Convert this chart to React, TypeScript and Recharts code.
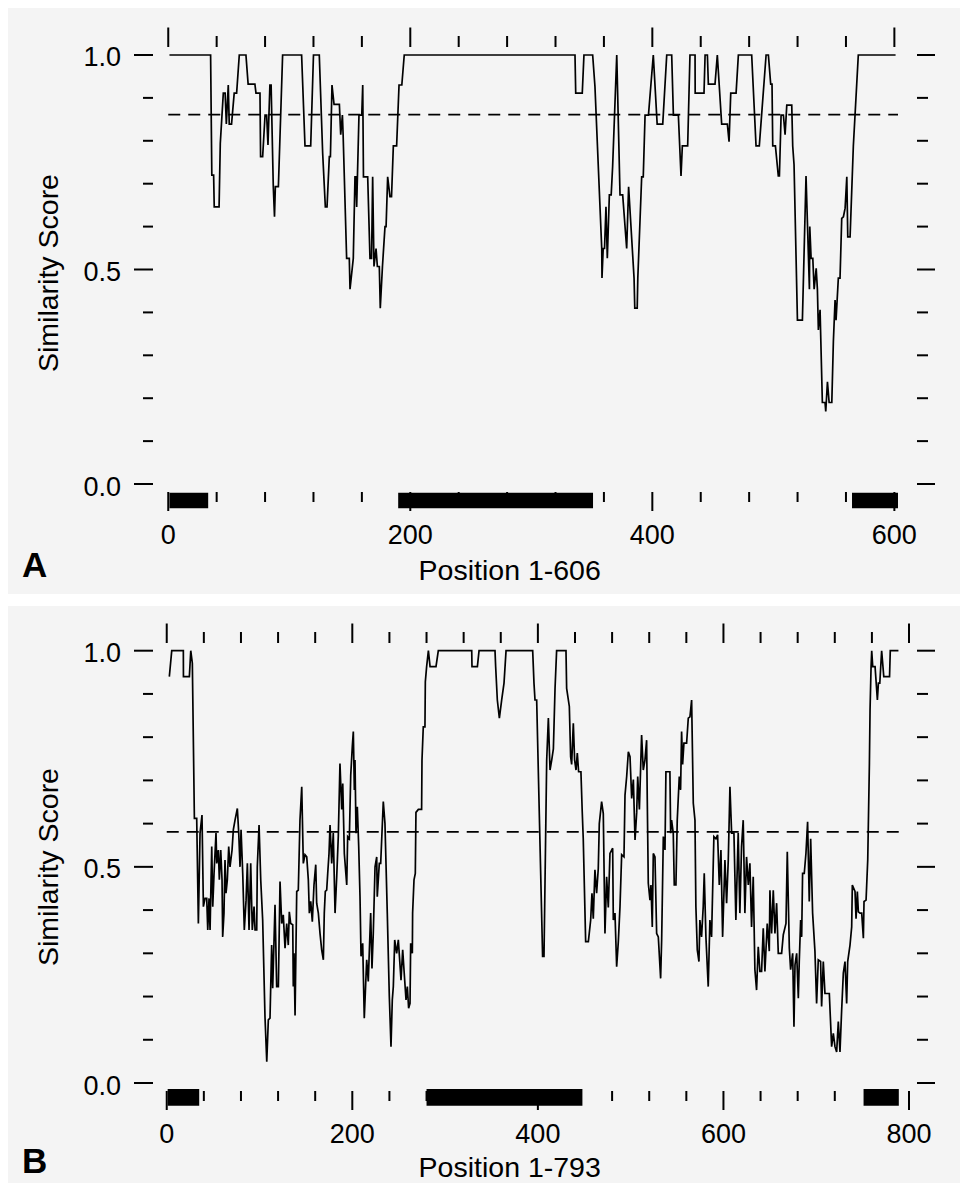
import React from "react"
import { ComposedChart, Line, XAxis, YAxis, ReferenceLine, ReferenceArea } from "recharts"

const FONT = '"Liberation Sans", Arial, Helvetica, sans-serif'

// panel A: protein 1-606
const posA = [1, 35, 36, 37.5, 38, 42, 43, 45.5, 47, 48, 49.6, 50.4, 52.3, 54.5, 56.5, 58.7, 64.2, 66, 71.6, 72.5, 75.8, 76.3, 78, 80, 81.3, 82.4, 84, 85, 86.8, 87.8, 88.5, 91, 94.5, 110.2, 113, 117.7, 120, 124.8, 127.6, 129.8, 131.2, 133.1, 134, 135.3, 137, 141.4, 142.5, 143.9, 144.5, 147.4, 149.6, 150.2, 152.9, 154.3, 155, 155.7, 157.6, 159.9, 160.7, 161.3, 164.8, 166.7, 168, 168.9, 170, 171.7, 172.8, 174.4, 175.2, 177, 179.1, 180, 181.3, 183.2, 184.5, 186, 188.7, 190.7, 193, 195, 336.1, 336.7, 342.1, 343.5, 350.7, 352.6, 358.2, 358.4, 359.4, 360.5, 361.7, 362.8, 364.5, 366, 367.2, 370.6, 373.3, 375.5, 378.8, 380.4, 384.9, 385.5, 387.5, 388, 391.2, 392.5, 394, 396.8, 400.8, 404, 408.6, 411.9, 416, 417.4, 421.5, 423.7, 424.8, 429.2, 431.1, 435.3, 435.4, 442.7, 443.6, 445.5, 446.3, 451.8, 453.7, 457.3, 462, 463.4, 464.8, 469.2, 471.1, 482.1, 485.7, 488.4, 494, 495.9, 497.8, 498.9, 499.5, 501.7, 504.1, 505, 506.4, 508.3, 509.7, 511.1, 515.2, 516, 517.1, 519.9, 524, 527, 529.8, 530.1, 531.2, 532.6, 533.7, 535.4, 536.4, 537.2, 538.6, 540.5, 542.7, 543.3, 544.7, 546.1, 548.3, 549.6, 551, 551.8, 553.7, 555.1, 556.5, 557.9, 559.3, 560.7, 561.5, 563.4, 566.1, 567.5, 570.2, 601]
const scoreA = [1, 1, 0.72, 0.72, 0.646, 0.646, 0.794, 0.911, 0.911, 0.839, 0.93, 0.839, 0.839, 0.911, 0.911, 1, 1, 0.932, 0.932, 0.911, 0.911, 0.763, 0.763, 0.86, 0.86, 0.79, 0.93, 0.93, 0.693, 0.623, 0.693, 0.693, 1, 1, 0.788, 0.788, 1, 1, 0.771, 0.646, 0.646, 0.763, 0.763, 0.93, 0.885, 0.885, 0.814, 0.86, 0.814, 0.526, 0.526, 0.454, 0.526, 0.716, 0.716, 0.646, 0.86, 0.86, 0.93, 0.716, 0.716, 0.526, 0.526, 0.716, 0.507, 0.549, 0.507, 0.507, 0.41, 0.507, 0.6, 0.6, 0.716, 0.67, 0.67, 0.788, 0.788, 0.93, 0.93, 1, 1, 0.911, 0.911, 1, 1, 0.926, 0.549, 0.48, 0.549, 0.549, 0.646, 0.526, 0.674, 0.674, 0.74, 1, 0.674, 0.674, 0.549, 0.693, 0.48, 0.41, 0.41, 0.48, 0.716, 0.716, 0.86, 0.86, 1, 0.839, 0.839, 1, 1, 0.86, 0.86, 0.718, 0.788, 0.788, 1, 1, 0.911, 0.911, 1, 1, 0.932, 0.932, 1, 0.839, 0.839, 0.798, 0.911, 0.911, 1, 1, 0.788, 0.788, 1, 1, 0.932, 0.932, 0.788, 0.788, 0.718, 0.718, 0.86, 0.86, 0.814, 0.883, 0.883, 0.788, 0.744, 0.382, 0.382, 0.718, 0.454, 0.6, 0.526, 0.526, 0.454, 0.503, 0.454, 0.359, 0.406, 0.19, 0.19, 0.169, 0.238, 0.19, 0.19, 0.332, 0.429, 0.382, 0.48, 0.48, 0.619, 0.623, 0.643, 0.716, 0.576, 0.576, 0.788, 0.86, 1, 1]
const domStartA = [1, 190, 565]
const domEndA = [33, 351, 603]
const cutA = 0.861
const xTicksA = [0, 40, 80, 120, 160, 200, 240, 280, 320, 360, 400, 440, 480, 520, 560, 600]

// panel B: protein 1-793
const posB = [2.8, 5.4, 17.9, 18, 24.4, 25.9, 27.6, 29.8, 32.3, 34.1, 35.9, 38, 39.5, 41.3, 43.1, 44.2, 45.6, 46.7, 48.5, 49.6, 51, 53.1, 53.9, 55.6, 56.7, 58.2, 59.6, 60.3, 61.7, 62.8, 63.9, 65.3, 66.8, 68.2, 70.4, 71.8, 73.6, 76.1, 77.6, 79, 80.1, 81.9, 83.6, 85.5, 86.9, 88.7, 90.5, 92.2, 94.1, 95.2, 97, 97.6, 99.5, 101.3, 103.4, 105.9, 107.8, 109.5, 111.3, 113.1, 114.2, 116.7, 118.5, 120.3, 122.1, 123.9, 125.6, 127.5, 129.3, 131, 132.1, 133.6, 135.8, 136.4, 137.2, 138.3, 140.1, 141.8, 143.6, 145.5, 147.2, 149, 150.9, 152.6, 153.7, 155.2, 156.9, 158.7, 160.6, 161.6, 163.4, 165.2, 167, 168.8, 169.8, 170.9, 172.4, 173.5, 174.9, 176, 177.8, 179.5, 181.4, 183.2, 184.9, 186.7, 188.6, 189.7, 191.4, 194, 195, 196.8, 198.3, 200, 201.1, 202.2, 202.9, 204, 205.4, 206.9, 208.3, 209.4, 211.2, 212.9, 215.5, 217.2, 219.8, 221.2, 222.6, 224.5, 226.3, 226.9, 229.1, 230.6, 233.4, 235.2, 237.7, 239.9, 241.7, 243.1, 244.2, 245.7, 247.8, 249.6, 252.5, 254.3, 255.7, 257.9, 259.3, 260.7, 262.2, 262.9, 264.7, 265, 266.5, 267.9, 268.6, 271.2, 274.7, 275.1, 276.5, 278.3, 278.7, 280.1, 282, 283.8, 290.2, 292.7, 328.7, 329, 334.8, 336.6, 353.8, 354.5, 356.3, 358.5, 361, 363.5, 365.7, 394.4, 395.8, 396.9, 398.7, 405.1, 406.6, 409.5, 411.3, 413.1, 414.9, 416.7, 418.5, 420.2, 430.3, 431, 433.9, 435.3, 436.4, 438.2, 439.6, 441.1, 442.5, 443.9, 446.4, 447.8, 448.9, 451.5, 454.4, 456.9, 458.3, 459.7, 461.5, 463.3, 465.1, 466.2, 468.7, 470.5, 472.3, 474.1, 475.9, 477.7, 480.6, 481.3, 483.1, 484.9, 486.7, 488.5, 490.3, 492.8, 493.9, 495.7, 497.5, 499.3, 501.1, 502.9, 504.7, 506.5, 507.6, 509.4, 511.8, 513.6, 515.4, 517.2, 517.9, 519, 520.8, 521.9, 523.3, 524.4, 526.2, 528, 529.8, 532.3, 533.4, 535.2, 537, 538, 542.3, 543.1, 544.1, 545.9, 547, 548.8, 550.2, 552.4, 553.8, 554.9, 556, 557.4, 560.3, 562.1, 563.9, 565.7, 567.5, 569.3, 570.3, 571.8, 573.6, 574.6, 576.4, 578.2, 579.3, 581.1, 583.6, 585.4, 587.2, 589.7, 591.9, 593.7, 595.5, 597.3, 599.1, 601.6, 603.4, 605.2, 607, 608.8, 611.3, 613.4, 615.9, 617.7, 619.5, 621.3, 623.1, 624.9, 626.8, 628.5, 630.3, 632.1, 633.9, 635.7, 637.5, 639.3, 641.1, 642.9, 644.7, 647.2, 649.4, 650.1, 651.9, 653.7, 655.5, 657.3, 659.1, 662.7, 664.5, 667.4, 668.8, 671, 672.4, 674.6, 676, 677.1, 678.9, 680.7, 681.7, 683.2, 684.3, 685.3, 687.1, 688.9, 690.7, 692.5, 694, 696.1, 698.6, 700.4, 702.2, 704.7, 705.8, 707.6, 709.4, 714.1, 716.6, 718.4, 720.2, 722, 723.8, 725.6, 727.4, 729.2, 731, 732.8, 733.9, 736.4, 738.2, 738.9, 741.8, 742.9, 744.3, 745.4, 747.2, 749, 750.8, 751.5, 753.7, 755.5, 757.3, 758, 759.1, 759.8, 760.9, 763.4, 765.9, 767, 768.5, 770.5, 772.8, 779, 779.8, 788.6]
const scoreB = [0.94, 1, 1, 0.94, 0.94, 1, 0.971, 0.612, 0.612, 0.369, 0.578, 0.62, 0.408, 0.427, 0.427, 0.354, 0.427, 0.354, 0.547, 0.408, 0.485, 0.578, 0.508, 0.539, 0.47, 0.539, 0.47, 0.338, 0.393, 0.516, 0.439, 0.47, 0.547, 0.5, 0.539, 0.586, 0.608, 0.635, 0.578, 0.5, 0.586, 0.485, 0.354, 0.423, 0.508, 0.354, 0.508, 0.354, 0.408, 0.354, 0.354, 0.5, 0.597, 0.47, 0.377, 0.153, 0.049, 0.146, 0.15, 0.319, 0.219, 0.412, 0.223, 0.223, 0.466, 0.369, 0.389, 0.312, 0.369, 0.319, 0.396, 0.369, 0.366, 0.223, 0.3, 0.156, 0.443, 0.446, 0.608, 0.685, 0.508, 0.528, 0.523, 0.47, 0.393, 0.42, 0.373, 0.458, 0.505, 0.416, 0.393, 0.346, 0.308, 0.285, 0.393, 0.443, 0.446, 0.485, 0.531, 0.597, 0.508, 0.578, 0.393, 0.477, 0.57, 0.739, 0.633, 0.693, 0.531, 0.458, 0.57, 0.565, 0.712, 0.778, 0.813, 0.678, 0.747, 0.578, 0.639, 0.547, 0.431, 0.293, 0.323, 0.15, 0.285, 0.235, 0.393, 0.265, 0.346, 0.5, 0.523, 0.431, 0.508, 0.508, 0.651, 0.6, 0.393, 0.2, 0.084, 0.192, 0.223, 0.331, 0.3, 0.331, 0.238, 0.308, 0.262, 0.192, 0.223, 0.173, 0.184, 0.323, 0.3, 0.393, 0.47, 0.485, 0.626, 0.633, 0.633, 0.747, 0.824, 0.824, 0.928, 0.963, 1, 0.963, 0.963, 1, 1, 0.963, 0.963, 1, 1, 0.963, 0.886, 0.844, 0.886, 0.925, 1, 1, 0.925, 0.886, 0.886, 0.293, 0.293, 0.747, 0.844, 0.724, 0.747, 0.773, 0.913, 1, 1, 0.913, 0.871, 0.755, 0.737, 0.832, 0.747, 0.724, 0.763, 0.72, 0.72, 0.628, 0.565, 0.327, 0.327, 0.377, 0.439, 0.38, 0.493, 0.439, 0.496, 0.6, 0.651, 0.623, 0.346, 0.477, 0.406, 0.531, 0.543, 0.377, 0.393, 0.269, 0.327, 0.408, 0.528, 0.523, 0.666, 0.709, 0.766, 0.755, 0.658, 0.702, 0.562, 0.626, 0.709, 0.633, 0.805, 0.724, 0.747, 0.793, 0.655, 0.462, 0.423, 0.458, 0.361, 0.531, 0.523, 0.346, 0.338, 0.242, 0.331, 0.57, 0.539, 0.72, 0.72, 0.578, 0.608, 0.578, 0.458, 0.458, 0.608, 0.709, 0.678, 0.813, 0.737, 0.786, 0.786, 0.844, 0.847, 0.886, 0.647, 0.608, 0.408, 0.308, 0.281, 0.377, 0.338, 0.408, 0.485, 0.338, 0.223, 0.377, 0.338, 0.57, 0.565, 0.574, 0.458, 0.539, 0.338, 0.516, 0.416, 0.516, 0.685, 0.578, 0.578, 0.377, 0.578, 0.393, 0.547, 0.608, 0.393, 0.523, 0.458, 0.508, 0.361, 0.477, 0.262, 0.215, 0.315, 0.258, 0.258, 0.358, 0.258, 0.369, 0.305, 0.446, 0.346, 0.446, 0.346, 0.416, 0.3, 0.3, 0.343, 0.369, 0.535, 0.312, 0.262, 0.3, 0.13, 0.273, 0.3, 0.196, 0.281, 0.377, 0.338, 0.485, 0.485, 0.531, 0.604, 0.42, 0.565, 0.393, 0.305, 0.184, 0.285, 0.281, 0.177, 0.281, 0.207, 0.207, 0.084, 0.115, 0.084, 0.072, 0.142, 0.072, 0.169, 0.254, 0.281, 0.184, 0.281, 0.319, 0.361, 0.458, 0.443, 0.38, 0.443, 0.396, 0.393, 0.393, 0.335, 0.42, 0.423, 0.516, 0.739, 0.863, 0.963, 1, 0.963, 0.963, 0.886, 0.925, 0.925, 1, 0.94, 0.94, 1, 1]
const domStartB = [1, 280, 751]
const domEndB = [35, 448, 789]
const cutB = 0.581
const xTicksB = [0, 40, 80, 120, 160, 200, 240, 280, 320, 360, 400, 440, 480, 520, 560, 600, 640, 680, 720, 760, 800]

const yTicks = [0, 0.1, 0.2, 0.3, 0.4, 0.5, 0.6, 0.7, 0.8, 0.9, 1.0]

const majorY = (v: number) => Math.abs(v * 2 - Math.round(v * 2)) < 1e-6
const majorX = (v: number) => Math.round(v) % 200 === 0

const LeftTick = (props: any) => {
  const { x, y, payload } = props
  const v = payload.value
  const big = majorY(v)
  return (
    <g>
      <line x1={x - (big ? 19 : 10)} x2={x} y1={y} y2={y} stroke="#000" strokeWidth={2} />
      {big && (
        <text x={x - 32} y={y + 11.5} textAnchor="end" fontSize={27} fontFamily={FONT} fill="#000">
          {v.toFixed(1)}
        </text>
      )}
    </g>
  )
}

const RightTick = (props: any) => {
  const { x, y, payload } = props
  const big = majorY(payload.value)
  return <line x1={x} x2={x + (big ? 18 : 11)} y1={y} y2={y} stroke="#000" strokeWidth={2} />
}

const TopTick = (props: any) => {
  const { x, y, payload } = props
  const big = majorX(payload.value)
  return <line x1={x} x2={x} y1={y - (big ? 19.5 : 11)} y2={y} stroke="#000" strokeWidth={2} />
}

const BottomTick = (props: any) => {
  const { x, y, payload } = props
  const v = payload.value
  const big = majorX(v)
  return (
    <g>
      <line x1={x} x2={x} y1={y} y2={y + (big ? 19 : 10)} stroke="#000" strokeWidth={2} />
      {big && (
        <text x={x} y={y + 52} textAnchor="middle" fontSize={27} fontFamily={FONT} fill="#000">
          {v}
        </text>
      )}
    </g>
  )
}

function Panel(p: any) {
  const data = p.pos.map((x: number, i: number) => ({ pos: x, score: p.score[i] }))
  const axisCommon = {
    type: "number" as const,
    allowDataOverflow: true,
    interval: 0 as const,
    tickSize: 0,
    tickMargin: 0,
    axisLine: false,
    tickLine: false,
  }
  // axes are 1px thick so that they render; margins are reduced by 1 to keep the plot box in place
  return (
    <div style={{ position: "relative", width: 952, height: p.height, background: "#f4f4f4" }}>
      <ComposedChart
        width={952}
        height={p.height}
        data={data}
        margin={{ top: p.top - 1, right: 42, bottom: p.bottom - 1, left: 144 }}
      >
        <XAxis xAxisId="b" dataKey="pos" orientation="bottom" domain={p.xDomain} ticks={p.xTicks} height={1} tick={BottomTick} {...axisCommon} />
        <XAxis xAxisId="t" dataKey="pos" orientation="top" domain={p.xDomain} ticks={p.xTicks} height={1} tick={TopTick} {...axisCommon} />
        <YAxis yAxisId="l" orientation="left" domain={p.yDomain} ticks={yTicks} width={1} tick={LeftTick} {...axisCommon} />
        <YAxis yAxisId="r" orientation="right" domain={p.yDomain} ticks={yTicks} width={1} tick={RightTick} {...axisCommon} />
        {p.starts.map((s: number, i: number) => (
          <ReferenceArea
            key={i}
            xAxisId="b"
            yAxisId="l"
            x1={s}
            x2={p.ends[i]}
            y1={p.bar[0]}
            y2={p.bar[1]}
            fill="#000"
            fillOpacity={1}
            stroke="none"
            ifOverflow="visible"
          />
        ))}
        <ReferenceLine
          xAxisId="b"
          yAxisId="l"
          segment={[{ x: 0, y: p.cut }, { x: p.cutEnd, y: p.cut }]}
          stroke="#000"
          strokeWidth={1.7}
          strokeDasharray="12 8"
        />
        <Line
          xAxisId="b"
          yAxisId="l"
          dataKey="score"
          type="linear"
          stroke="#000"
          strokeWidth={1.7}
          dot={false}
          isAnimationActive={false}
        />
      </ComposedChart>
      <svg width={952} height={p.height} style={{ position: "absolute", left: 0, top: 0, pointerEvents: "none" }}>
        <text
          transform={`translate(49.5 ${p.titleY}) rotate(-90)`}
          textAnchor="middle"
          fontSize={28.5}
          fontFamily={FONT}
          fill="#000"
        >
          Similarity Score
        </text>
        <text x={501.7} y={p.labelY} textAnchor="middle" fontSize={28.5} fontFamily={FONT} fill="#000">
          {p.label}
        </text>
        <text x={14} y={p.letterY} fontSize={35} fontWeight="bold" fontFamily={FONT} fill="#000">
          {p.letter}
        </text>
      </svg>
    </div>
  )
}

export default function App() {
  return (
    <div style={{ padding: "8px 0 0 8px", width: 952 }}>
      <style>{"body{margin:0;overflow:hidden;background:#fff}"}</style>
      <Panel
        pos={posA}
        score={scoreA}
        starts={domStartA}
        ends={domEndA}
        cut={cutA}
        cutEnd={603}
        xTicks={xTicksA}
        xDomain={[-12.6, 618.7]}
        yDomain={[-0.0186, 1.0186]}
        bar={[-0.0566, -0.0203]}
        height={586}
        top={39}
        bottom={102}
        titleY={265}
        label="Position 1-606"
        labelY={572}
        letter="A"
        letterY={569.3}
      />
      <div style={{ height: 12 }} />
      <Panel
        pos={posB}
        score={scoreB}
        starts={domStartB}
        ends={domEndB}
        cut={cutB}
        cutEnd={790}
        xTicks={xTicksB}
        xDomain={[-14.8, 808.6]}
        yDomain={[-0.0185, 1.0178]}
        bar={[-0.0525, -0.0139]}
        height={577}
        top={37}
        bottom={92}
        titleY={261}
        label="Position 1-793"
        labelY={570.7}
        letter="B"
        letterY={567.3}
      />
    </div>
  )
}
